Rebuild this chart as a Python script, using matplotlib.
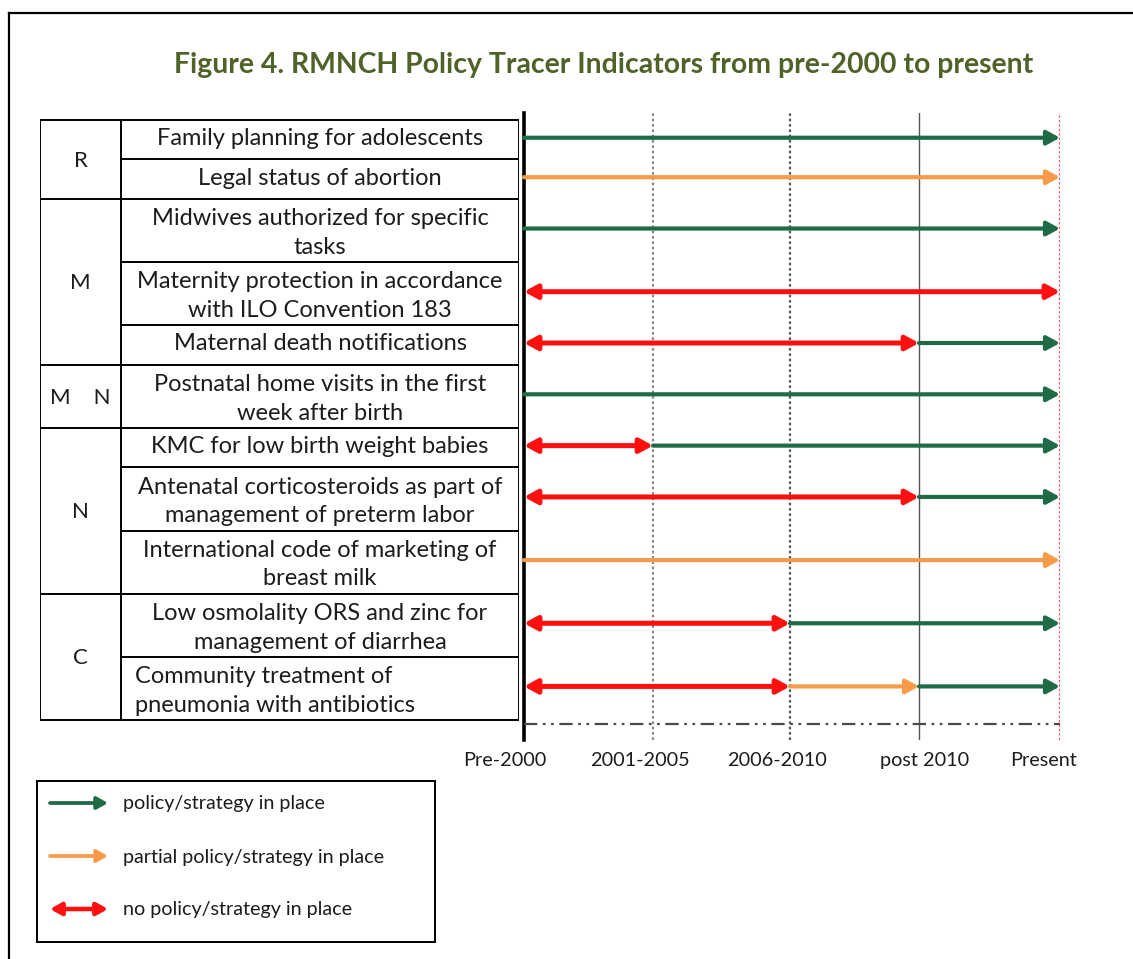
import matplotlib
matplotlib.use("Agg")
import matplotlib.pyplot as plt
from matplotlib.lines import Line2D
from matplotlib.patches import FancyArrowPatch, ArrowStyle
import matplotlib.transforms as mtransforms

# ---------------- data ----------------
periods = ["Pre-2000", "2001-2005", "2006-2010", "post 2010", "Present"]
groups = ["R", "M", "M    N", "N", "C"]
group_sizes = [2, 3, 1, 3, 2]
indicators = [
    "Family planning for adolescents",
    "Legal status of abortion",
    "Midwives authorized for specific\ntasks",
    "Maternity protection in accordance\nwith ILO Convention 183",
    "Maternal death notifications",
    "Postnatal home visits in the first\nweek after birth",
    "KMC for low birth weight babies",
    "Antenatal corticosteroids as part of\nmanagement of preterm labor",
    "International code of marketing of\nbreast milk",
    "Low osmolality ORS and zinc for\nmanagement of diarrhea",
    "Community treatment of\npneumonia with antibiotics",
]
status_labels = ["policy/strategy in place",
                 "partial policy/strategy in place",
                 "no policy/strategy in place"]
# segments per indicator: (start period index, end period index, status index)
segments = [
    [(0, 4, 0)],
    [(0, 4, 1)],
    [(0, 4, 0)],
    [(0, 4, 2)],
    [(0, 3, 2), (3, 4, 0)],
    [(0, 4, 0)],
    [(0, 1, 2), (1, 4, 0)],
    [(0, 3, 2), (3, 4, 0)],
    [(0, 4, 1)],
    [(0, 2, 2), (2, 4, 0)],
    [(0, 2, 2), (2, 3, 1), (3, 4, 0)],
]

# ---------------- style / layout ----------------
W, H = 1133, 959
status_colors = ["#1f6b45", "#f79a4a", "#ff1010"]
status_lw = [3.0, 3.0, 3.6]
status_style = ["-|>", "-|>", "<|-|>"]
period_pos = [0.0, 0.963, 1.985, 2.948, 4.0]
vline_styles = [None,
                dict(color="#8a8a8a", ls=(0, (1.2, 1.2)), lw=1.6),
                dict(color="#5a5a5a", ls=(0, (1.2, 1.2)), lw=1.6),
                dict(color="#555555", ls="-", lw=1.0),
                dict(color="#ff4d4d", ls=(0, (1.0, 1.0)), lw=1.6)]
label_left = [False] * 10 + [True]
FONT = "Lato"
TXT = "#1c1c1c"
ROWFS = 17

plt.rcParams["font.family"] = [FONT, "DejaVu Sans"]

fig = plt.figure(figsize=(W / 100, H / 100), dpi=100)


def px_axes(x0, y0, x1, y1):
    return fig.add_axes([x0 / W, 1 - y1 / H, (x1 - x0) / W, (y1 - y0) / H])


# outer frame (top and left only)
fig.add_artist(Line2D([9 / W, 1.0], [1 - 13 / H, 1 - 13 / H], color="black", lw=1.6,
                      transform=fig.transFigure))
fig.add_artist(Line2D([9 / W, 9 / W], [1 - 13 / H, 0], color="black", lw=1.6,
                      transform=fig.transFigure))

fig.text(604 / W, 1 - 65.5 / H,
         "Figure 4. RMNCH Policy Tracer Indicators from pre-2000 to present",
         ha="center", va="center", fontsize=20.4, fontweight="bold", color="#4f6228")

# row heights (units) based on number of text lines
heights = [1.0 if "\n" not in s else 1.6 for s in indicators]
bounds = [0.0]
for h in heights:
    bounds.append(bounds[-1] + h)
T = bounds[-1]
ppu = 600 / T  # pixels per unit: rows span pixel 120..720
ylim = (T + 20 / ppu, -7 / ppu)  # axes pixel 113..740

# ---------------- table ----------------
tab = px_axes(40, 113, 519, 740)
tab.set_xlim(0, 1)
tab.set_ylim(*ylim)
tab.axis("off")
cat = 81 / 479
lwt = 1.4
tab.plot([0, 0], [0, T], color="black", lw=lwt)
tab.plot([cat, cat], [0, T], color="black", lw=lwt)
tab.plot([1, 1], [0, T], color="black", lw=lwt)
gstarts = [0]
for g in group_sizes:
    gstarts.append(gstarts[-1] + g)
for i, b in enumerate(bounds):
    x0 = 0 if i in gstarts else cat
    tab.plot([x0, 1], [b, b], color="black", lw=lwt)
for gi, g in enumerate(groups):
    ymid = (bounds[gstarts[gi]] + bounds[gstarts[gi + 1]]) / 2
    tab.text(cat / 2, ymid + 1.5 / ppu, g, ha="center", va="center",
             fontsize=ROWFS - 1, color=TXT)
for i, s in enumerate(indicators):
    off = 2.5 if "\n" in s else -1
    ymid = (bounds[i] + bounds[i + 1]) / 2 + off / ppu
    if label_left[i]:
        tab.text(cat + 14 / 479, ymid, s, ha="left", va="center", fontsize=ROWFS,
                 color=TXT, linespacing=1.45, multialignment="left")
    else:
        tab.text((cat + 1) / 2, ymid, s, ha="center", va="center", fontsize=ROWFS,
                 color=TXT, linespacing=1.45, multialignment="center")

# ---------------- timeline ----------------
tl = px_axes(524, 113, 1060, 740)
tl.set_xlim(0, 4)
tl.set_ylim(*ylim)
for s in tl.spines.values():
    s.set_visible(False)
tl.set_yticks([])
for k, st in enumerate(vline_styles):
    if st:
        tl.axvline(period_pos[k], **st)
tl.axvline(period_pos[0], color="black", lw=2.6, clip_on=False)
tl.plot([period_pos[0], period_pos[-1]], [T + 4 / ppu] * 2, color="#4a4a4a", lw=1.6,
        ls=(0, (6, 2.5, 1.2, 2.5, 1.2, 2.5)))
tl.set_xticks(period_pos)
tl.set_xticklabels(periods, fontsize=14.3, color=TXT)
tl.tick_params(axis="x", length=0, pad=18.5)
offs = [-19, -13, -13, 6, -17]
for lab, o in zip(tl.get_xticklabels(), offs):
    lab.set_verticalalignment("baseline")
    lab.set_transform(lab.get_transform() +
                      mtransforms.ScaledTranslation(o / 100, 0, fig.dpi_scale_trans))

for i, segs in enumerate(segments):
    y = (bounds[i] + bounds[i + 1]) / 2 - 2 / ppu
    for (a, b, st) in segs:
        style = ArrowStyle(status_style[st], head_length=0.55, head_width=0.3)
        arr = FancyArrowPatch((period_pos[a], y), (period_pos[b], y),
                              arrowstyle=style, mutation_scale=14,
                              color=status_colors[st], lw=status_lw[st],
                              shrinkA=0, shrinkB=0, clip_on=False, zorder=5)
        tl.add_patch(arr)

# ---------------- legend ----------------
lg = px_axes(37, 781, 435, 942)
lg.set_xlim(0, 1)
lg.set_ylim(1, 0)
lg.set_xticks([])
lg.set_yticks([])
for s in lg.spines.values():
    s.set_linewidth(1.4)
    s.set_color("black")
for k, lab in enumerate(status_labels):
    y = (22 + 53 * k) / 161
    style = ArrowStyle(status_style[k], head_length=0.5, head_width=0.28)
    lg.add_patch(FancyArrowPatch((13 / 398, y), (71 / 398, y), arrowstyle=style,
                                 mutation_scale=13, color=status_colors[k],
                                 lw=status_lw[k] * 0.9, shrinkA=0, shrinkB=0))
    lg.text(86 / 398, y + 1 / 161, lab, ha="left", va="center", fontsize=14.2, color=TXT)

fig.savefig("out.png", dpi=100)
